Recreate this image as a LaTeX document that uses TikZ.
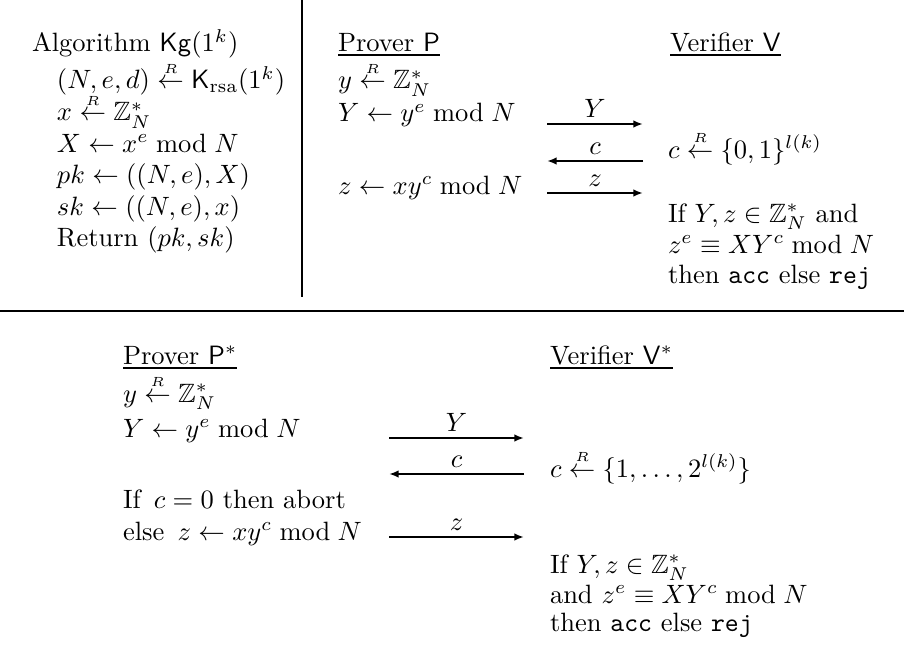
\documentclass[tikz,border=0pt]{standalone}
\usepackage{amsmath,amssymb}
\usetikzlibrary{arrows.meta}
\newcommand{\rgets}{\stackrel{{\scriptscriptstyle R}}{\leftarrow}}
\tikzset{
  txt/.style={anchor=base west, inner sep=0pt, outer sep=0pt},
  lbl/.style={anchor=base, inner sep=0pt},
  msg/.style={line width=0.75pt, -{Latex[length=3.6pt,width=2.8pt]}},
  rulev/.style={line width=0.5pt},
  ruleh/.style={line width=0.8pt},
  ul/.style={line width=0.7pt}
}
\begin{document}
\begin{tikzpicture}[x=0.3774pt,y=-0.3774pt]
\useasboundingbox (0,0) rectangle (904,650);
% rules
\coordinate (vt) at (302,0);
\coordinate (vb) at (302,297);
\coordinate (hl) at (0,311);
\coordinate (hr) at (904,311);
\draw[rulev] (vt) -- (vb);
\draw[ruleh] (hl) -- (hr);

% left column: key generation
\node[txt] (a1) at (32,52) {Algorithm $\mathsf{Kg}(1^k)$};
\node[txt] (a2) at (57,89) {$(N,e,d) \rgets \mathsf{K}_{\mathrm{rsa}}(1^k)$};
\node[txt] (a3) at (57,121) {$x \rgets \mathbb{Z}_N^*$};
\node[txt] (a4) at (57,152) {$X \leftarrow x^e \bmod N$};
\node[txt] (a5) at (57,184) {$pk \leftarrow ((N,e),X)$};
\node[txt] (a6) at (57,215) {$sk \leftarrow ((N,e),x)$};
\node[txt] (a7) at (57,246) {Return $(pk,sk)$};

% top protocol
\node[txt] (p0) at (338,52) {Prover $\mathsf{P}$};
\draw[ul] ([yshift=-1.1pt]p0.base west) -- ([yshift=-1.1pt]p0.base east);
\node[txt] (v0) at (670,52) {Verifier $\mathsf{V}$};
\draw[ul] ([yshift=-1.1pt]v0.base west) -- ([yshift=-1.1pt]v0.base east);
\node[txt] (p1) at (338,89) {$y \rgets \mathbb{Z}_N^*$};
\node[txt] (p2) at (338,122) {$Y \leftarrow y^e \bmod N$};
\node[txt] (p3) at (338,194) {$z \leftarrow xy^c \bmod N$};
\node[txt] (v1) at (668,158) {$c \rgets \{0,1\}^{l(k)}$};
\node[txt] (v2) at (668,222) {If $Y,z \in \mathbb{Z}_N^*$ and};
\node[txt] (v3) at (668,253) {$z^e \equiv XY^c \bmod N$};
\node[txt] (v4) at (668,283) {then \texttt{acc} else \texttt{rej}};

\coordinate (m1l) at (547,124); \coordinate (m1r) at (643,124);
\coordinate (m2l) at (547,161); \coordinate (m2r) at (643,161);
\coordinate (m3l) at (547,193); \coordinate (m3r) at (643,193);
\draw[msg] (m1l) -- node[lbl, above=2pt] (t1) {$Y$} (m1r);
\draw[msg] (m2r) -- node[lbl, above=2pt] (t2) {$c$} (m2l);
\draw[msg] (m3l) -- node[lbl, above=2pt] (t3) {$z$} (m3r);

% bottom protocol
\node[txt] (q0) at (123,364) {Prover $\mathsf{P}^*$};
\draw[ul] ([yshift=-1.5pt]q0.base west) -- ([yshift=-1.5pt]q0.base east);
\node[txt] (w0) at (550,364) {Verifier $\mathsf{V}^*$};
\draw[ul] ([yshift=-1.5pt]w0.base west) -- ([yshift=-1.5pt]w0.base east);
\node[txt] (q1) at (123,402) {$y \rgets \mathbb{Z}_N^*$};
\node[txt] (q2) at (123,437) {$Y \leftarrow y^e \bmod N$};
\node[txt] (q3) at (123,508) {If\, $c=0$ then abort};
\node[txt] (q4) at (123,540) {else\, $z \leftarrow xy^c \bmod N$};
\node[txt] (w1) at (550,477) {$c \rgets \{1,\ldots,2^{l(k)}\}$};
\node[txt] (w2) at (550,573) {If $Y,z \in \mathbb{Z}_N^*$};
\node[txt] (w3) at (550,603) {and $z^e \equiv XY^c \bmod N$};
\node[txt] (w4) at (550,631) {then \texttt{acc} else \texttt{rej}};

\coordinate (n1l) at (389,438); \coordinate (n1r) at (524,438);
\coordinate (n2l) at (389,474); \coordinate (n2r) at (524,474);
\coordinate (n3l) at (389,537); \coordinate (n3r) at (524,537);
\draw[msg] (n1l) -- node[lbl, above=2pt] (s1) {$Y$} (n1r);
\draw[msg] (n2r) -- node[lbl, above=2pt] (s2) {$c$} (n2l);
\draw[msg] (n3l) -- node[lbl, above=2pt] (s3) {$z$} (n3r);
\end{tikzpicture}
\end{document}
